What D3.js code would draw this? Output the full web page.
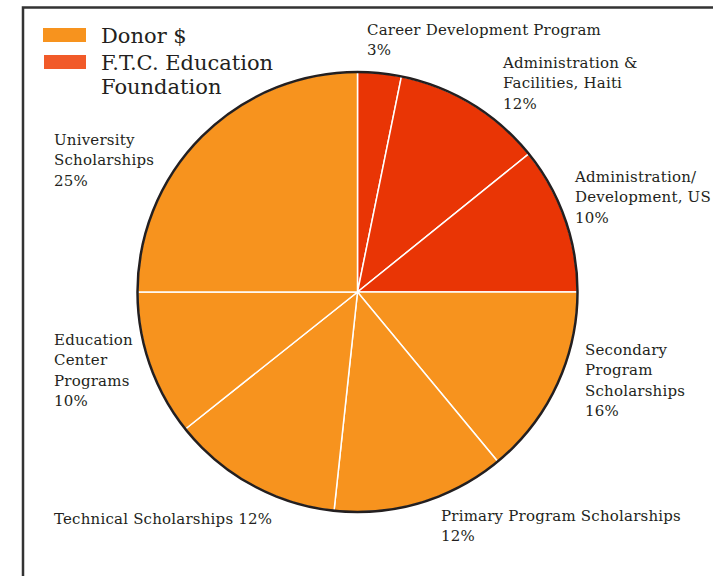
<!DOCTYPE html>
<html>
<head>
<meta charset="utf-8">
<script src="https://cdn.jsdelivr.net/npm/d3@7"></script>
<style>
  body { margin: 0; background: #fff; }
  text { font-family: "DejaVu Serif", serif; fill: #231f20; }
</style>
</head>
<body>
<div id="chart"></div>
<script>
// slices, clockwise from 12 o'clock
const categories = [
  "Career Development Program",
  "Administration & Facilities, Haiti",
  "Administration/ Development, US",
  "Secondary Program Scholarships",
  "Primary Program Scholarships",
  "Technical Scholarships",
  "Education Center Programs",
  "University Scholarships"
]
// printed percentages
const percents = [3, 12, 10, 16, 12, 12, 10, 25]
// slice sizes as drawn (they differ a bit from the printed ones)
const sliceValues = [3.2, 11, 10.8, 14, 12.7, 12.6, 10.7, 25]
const sources = ["ftc", "ftc", "ftc", "donor", "donor", "donor", "donor", "donor"]
const legendNames = ["Donor $", "F.T.C. Education\nFoundation"]

// how each label is broken into lines
const labelLines = [
  ["Career Development Program", "3%"],
  ["Administration &", "Facilities, Haiti", "12%"],
  ["Administration/", "Development, US", "10%"],
  ["Secondary", "Program", "Scholarships", "16%"],
  ["Primary Program Scholarships", "12%"],
  ["Technical Scholarships 12%"],
  ["Education", "Center", "Programs", "10%"],
  ["University", "Scholarships", "25%"]
]
// label anchor (left x, first baseline) - layout only
const labelPos = [
  [367, 35], [503, 68], [575, 182], [585, 355],
  [441, 521], [54, 524], [54, 345], [54, 145]
]

const width = 713
const height = 576
const cx = 357.5, cy = 292, radius = 220

const color = d3.scaleOrdinal().domain(["donor", "ftc"]).range(["#f7931e", "#e93505"])
const legendColor = ["#f7931e", "#f15a29"]

const svg = d3.select("#chart").append("svg").attr("width", width).attr("height", height)

// frame
svg.append("rect")
  .attr("x", 23).attr("y", 7.5)
  .attr("width", 760).attr("height", 640)
  .attr("fill", "none").attr("stroke", "#333").attr("stroke-width", 2.5)

const pie = d3.pie().sort(null).value((d) => d)
const arc = d3.arc().innerRadius(0).outerRadius(radius)

const g = svg.append("g").attr("transform", `translate(${cx},${cy})`)

g.selectAll("path")
  .data(pie(sliceValues))
  .enter()
  .append("path")
  .attr("d", arc)
  .attr("fill", (_, i) => color(sources[i]))
  .attr("stroke", "#fff")
  .attr("stroke-width", 1.5)

// dark rim
g.append("circle").attr("r", radius).attr("fill", "none").attr("stroke", "#231f20").attr("stroke-width", 2.5)

// labels
labelLines.forEach((lines, i) => {
  const t = svg.append("text")
    .attr("x", labelPos[i][0])
    .attr("y", labelPos[i][1])
    .attr("font-size", 15)
    .attr("letter-spacing", 0.2)
  lines.forEach((l, j) => {
    t.append("tspan").attr("x", labelPos[i][0]).attr("dy", j === 0 ? 0 : 20.3).text(l)
  })
})

// legend
const legend = svg.append("g").attr("transform", "translate(43,28)")
legendNames.forEach((name, i) => {
  legend.append("rect")
    .attr("x", i === 0 ? 0 : 1).attr("y", i * 27)
    .attr("width", i === 0 ? 43 : 42).attr("height", 14)
    .attr("fill", legendColor[i])
  const t = legend.append("text").attr("x", 58).attr("y", 15 + i * 27).attr("font-size", 21)
  name.split("\n").forEach((l, j) => {
    t.append("tspan").attr("x", 58).attr("dy", j === 0 ? 0 : 24).text(l)
  })
})
</script>
</body>
</html>
